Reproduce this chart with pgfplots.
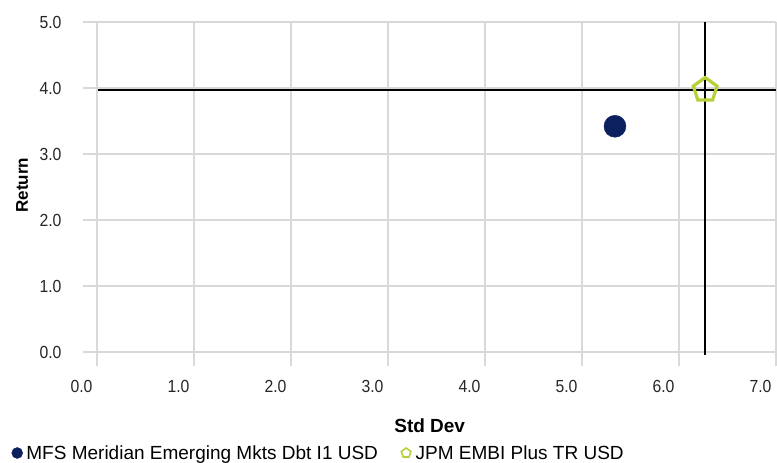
\documentclass[border=0pt]{standalone}
\usepackage{fontspec}
\setmainfont{Liberation Sans}[FakeStretch=0.9]
\newfontfamily\legfont{Liberation Sans}
\usepackage{pgfplots}
\pgfplotsset{compat=1.18}
\usetikzlibrary{plotmarks}

\definecolor{mfsnavy}{HTML}{0C1F5E}
\definecolor{embilime}{HTML}{B9CF3A}
\definecolor{gridgray}{HTML}{D9D9D9}

\begin{document}
\begin{tikzpicture}
\path[use as bounding box] (0,0) rectangle (777pt,463pt);
\begin{axis}[
	at={(97pt,111pt)}, anchor=south west,
	scale only axis,
	width=679pt, height=330pt,
	xmin=0, xmax=7, ymin=0, ymax=5,
	xtick={0,1,...,7}, ytick={0,1,...,5},
	clip=false,
	axis line style={draw=none},
	grid=major,
	grid style={line width=1.5pt, color=gridgray},
	major tick length=14pt,
	tick align=outside,
	xtick pos=lower, ytick pos=lower,
	tick style={line width=1.5pt, color=gridgray},
	/pgf/number format/assume math mode=true,
	/pgf/number format/.cd, fixed, fixed zerofill, precision=1, /pgfplots/.cd,
	tick label style={font=\fontsize{17.5}{20}\selectfont, text=black!85},
	xticklabel style={anchor=north east, xshift=-1pt, yshift=-11pt},
	yticklabel style={anchor=east, xshift=-18pt},
	xlabel={Std Dev},
	xlabel style={at={(axis description cs:0.490,-0.224)}, anchor=center,
		font=\legfont\bfseries\fontsize{19}{22}\selectfont},
	ylabel={Return},
	ylabel style={at={(axis description cs:-0.1104,0.506)}, anchor=center,
		font=\legfont\bfseries\fontsize{17}{20}\selectfont},
	legend columns=2,
	legend style={at={(rel axis cs:-0.1259,-0.306)}, anchor=west,
		draw=none, fill=none, inner sep=0pt, outer sep=0pt,
		font=\legfont\fontsize{19}{22}\selectfont,
		nodes={inner sep=0pt},
		/tikz/every even column/.append style={column sep=21pt}},
]

% benchmark crosshair
\addplot[black, line width=1.5pt, forget plot] coordinates {(0.01,3.97) (7,3.97)};
\addplot[black, line width=1.5pt, forget plot] coordinates {(6.27,-0.04) (6.27,5)};

\addplot[only marks, mark=*, mark size=11pt, color=mfsnavy,
	legend image code/.code={
		\fill[mfsnavy] (0pt,0pt) circle (5.5pt);
		\path (-5.5pt,0pt) (9pt,0pt);}]
coordinates {(5.34,3.42)};
\addlegendentry{MFS Meridian Emerging Mkts Dbt I1 USD}

\addplot[only marks, mark=pentagon, mark size=12.5pt, color=embilime, line width=3.2pt,
	mark options={fill=white},
	legend image code/.code={
		\draw[embilime, fill=white, line width=1.6pt, mark size=5pt, mark=pentagon]
			plot coordinates {(0pt,0pt)};
		\path (-5.5pt,0pt) (8pt,0pt);}]
coordinates {(6.27,3.97)};
\addlegendentry{JPM EMBI Plus TR USD}

\end{axis}
\end{tikzpicture}
\end{document}
